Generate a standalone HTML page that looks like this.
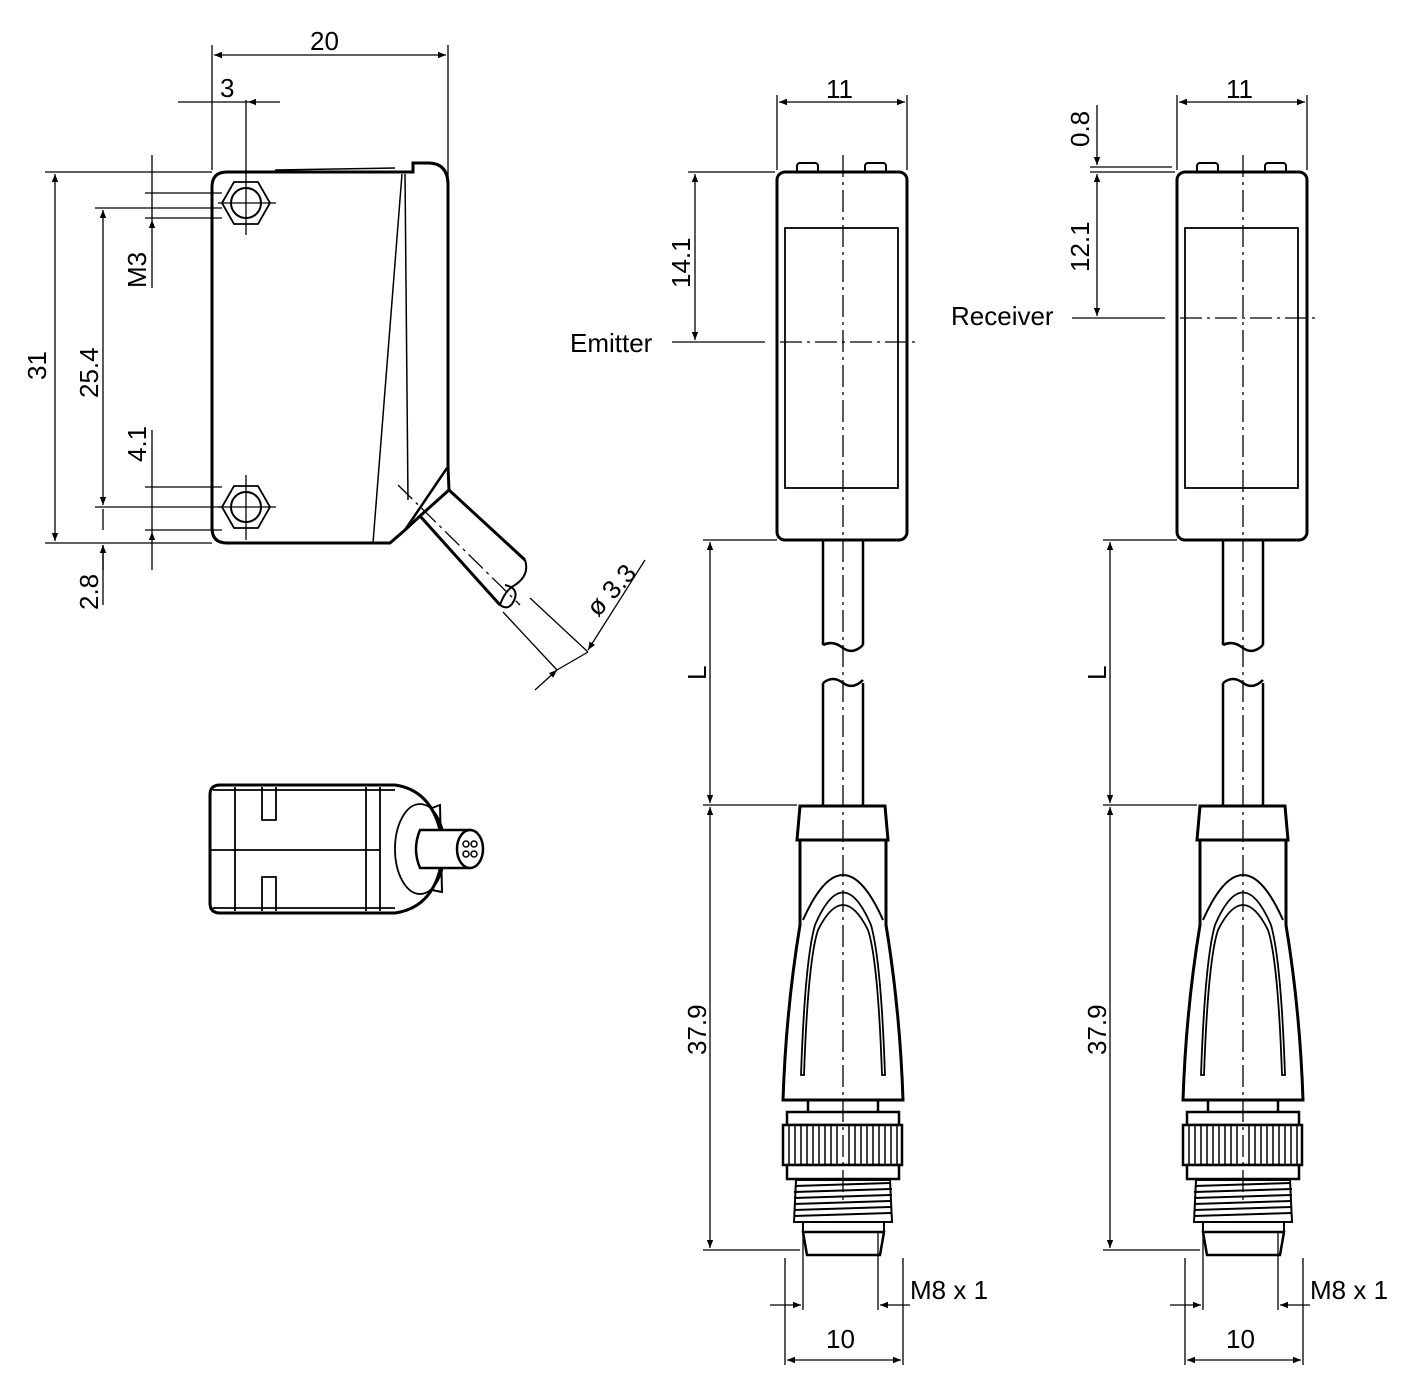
<!DOCTYPE html>
<html><head><meta charset="utf-8"><style>
html,body{margin:0;padding:0;background:#fff}
svg{display:block}
text{font-family:"Liberation Sans",sans-serif;font-size:26px;fill:#000}
</style></head><body>
<svg width="1417" height="1394" viewBox="0 0 1417 1394" xmlns="http://www.w3.org/2000/svg">
<defs>
<marker id="a" viewBox="0 0 10 10" refX="10" refY="5" markerWidth="12" markerHeight="8" orient="auto-start-reverse" markerUnits="userSpaceOnUse"><path d="M0,1 L10,5 L0,9z" fill="#000"/></marker>
<g id="front">
  <rect x="797" y="163" width="21" height="12" rx="3" fill="#fff" stroke="#000" stroke-width="2"/>
  <rect x="865" y="163" width="21" height="12" rx="3" fill="#fff" stroke="#000" stroke-width="2"/>
  <rect x="777" y="172" width="130" height="368" rx="8" fill="#fff" stroke="#000" stroke-width="3"/>
  <rect x="785" y="228" width="113" height="260" fill="none" stroke="#000" stroke-width="1.8"/>
  <path d="M823,540 L823,645 M863,540 L863,645 M823,645 Q833,640 843,648 Q853,655 863,645" fill="none" stroke="#000" stroke-width="2.5"/>
  <path d="M823,805 L823,683 M863,805 L863,683 M823,683 Q833,675 843,683 Q853,690 863,680" fill="none" stroke="#000" stroke-width="2.5"/>
  <path d="M800,806 L885,806 L888,840 L797,840 Z" fill="#fff" stroke="#000" stroke-width="3"/>
  <path d="M800,840 L800,925 Q786,1010 783,1100 L903,1100 Q900,1010 886,925 L886,840" fill="none" stroke="#000" stroke-width="3"/>
  <path d="M803,920 Q843,830 883,920" fill="none" stroke="#000" stroke-width="2"/>
  <path d="M801,1075 Q805,960 815,925 Q843,860 871,925 Q881,960 885,1075 L882,1075 Q878,960 868,930 Q843,880 818,930 Q808,960 804,1075 Z" fill="none" stroke="#000" stroke-width="1.8"/>
  <path d="M808,1100 L808,1112 M878,1100 L878,1112" stroke="#000" stroke-width="2.5"/>
  <rect x="787" y="1112" width="112" height="13" fill="#fff" stroke="#000" stroke-width="2.5"/>
  <rect x="783" y="1125" width="119" height="40" fill="#fff" stroke="#000" stroke-width="2.5"/>
  <path d="M789,1125v40M795,1125v40M801,1125v40M807,1125v40M813,1125v40M819,1125v40M825,1125v40M831,1125v40M837,1125v40M849,1125v40M855,1125v40M861,1125v40M867,1125v40M873,1125v40M879,1125v40M885,1125v40M891,1125v40M897,1125v40" stroke="#000" stroke-width="1.5"/>
  <rect x="787" y="1165" width="112" height="14" fill="#fff" stroke="#000" stroke-width="2.5"/>
  <path d="M796,1180 L890,1180 L892,1222 L794,1222 Z" fill="#fff" stroke="#000" stroke-width="2"/>
  <path d="M795,1186 L891,1183 M794,1192 L892,1189 M794,1198 L892,1195 M794,1204 L892,1201 M794,1210 L892,1207 M794,1216 L892,1213" stroke="#000" stroke-width="2"/>
  <path d="M803,1222 L884,1222 L884,1232 L803,1232 Z" fill="none" stroke="#000" stroke-width="2"/>
  <path d="M803,1232 L884,1232 L880,1255 L807,1255 Z" fill="#fff" stroke="#000" stroke-width="2.5"/>
  <path d="M843,155 L843,1200" stroke="#000" stroke-width="1.3" stroke-dasharray="22,5,3,5"/>
  <path d="M777,95 V170 M907,95 V170" stroke="#000" stroke-width="1.3"/>
  <path d="M779,102 H905" stroke="#000" stroke-width="1.3" marker-start="url(#a)" marker-end="url(#a)"/>
  <text x="826" y="98">11</text>
  <path d="M703,540 H777 M703,805 H797 M703,1250 H800" stroke="#000" stroke-width="1.3"/>
  <path d="M710,542 V803" stroke="#000" stroke-width="1.3" marker-start="url(#a)" marker-end="url(#a)"/>
  <path d="M710,807 V1248" stroke="#000" stroke-width="1.3" marker-start="url(#a)" marker-end="url(#a)"/>
  <text transform="translate(706,680) rotate(-90)">L</text>
  <text transform="translate(706,1055) rotate(-90)">37.9</text>
  <path d="M803,1232 V1310 M878,1232 V1310 M785,1258 V1365 M903,1258 V1365" stroke="#000" stroke-width="1.3"/>
  <path d="M770,1305 H801" stroke="#000" stroke-width="1.3" marker-end="url(#a)"/>
  <path d="M910,1305 H880" stroke="#000" stroke-width="1.3" marker-end="url(#a)"/>
  <path d="M787,1360 H901" stroke="#000" stroke-width="1.3" marker-start="url(#a)" marker-end="url(#a)"/>
  <text x="826" y="1348">10</text>
  <text x="910" y="1299">M8 x 1</text>
</g>
</defs>

<use href="#front"/>
<use href="#front" transform="translate(400,0)"/>

<path d="M688,172 H775" stroke="#000" stroke-width="1.3"/>
<path d="M695,174 V340" stroke="#000" stroke-width="1.3" marker-start="url(#a)" marker-end="url(#a)"/>
<text transform="translate(690,288) rotate(-90)">14.1</text>
<path d="M672,342 H765" stroke="#000" stroke-width="1.3"/>
<path d="M780,342 H915" stroke="#000" stroke-width="1.3" stroke-dasharray="22,5,3,5"/>
<text x="570" y="352">Emitter</text>

<path d="M1090,167 H1172 M1090,172 H1175" stroke="#000" stroke-width="1.3"/>
<path d="M1097,105 V165" stroke="#000" stroke-width="1.3" marker-end="url(#a)"/>
<path d="M1097,174 V316" stroke="#000" stroke-width="1.3" marker-start="url(#a)" marker-end="url(#a)"/>
<text transform="translate(1089,147) rotate(-90)">0.8</text>
<text transform="translate(1089,272) rotate(-90)">12.1</text>
<path d="M1072,318 H1165" stroke="#000" stroke-width="1.3"/>
<path d="M1180,318 H1315" stroke="#000" stroke-width="1.3" stroke-dasharray="22,5,3,5"/>
<text x="951" y="325">Receiver</text>

<g fill="none" stroke="#000">
<path d="M227,172 L413,172 L413,163 L428,163 Q448,163 448,185 L448,467 L449,490 L420,516 L405,530 L390,543 L227,543 Q212,543 212,528 L212,187 Q212,172 227,172 Z" stroke-width="3"/>
<path d="M449,490 L525,560 M420,516 L500,605" stroke-width="3"/>
<path d="M405,530 L447,468" stroke-width="2.5"/>
<path d="M373,543 L402,174 M405,174 L408,500" stroke-width="1.5"/>
<path d="M275,170 L395,168" stroke-width="1.5"/>
<path d="M525,560 Q530,575 515,585 Q505,590 500,605 M500,605 Q510,612 515,598 Q518,588 505,585" stroke-width="2"/>
<path d="M398,485 L520,605" stroke-width="1.3" stroke-dasharray="20,5,3,5"/>
<polygon points="222,203 234,182 258,182 270,203 258,224 234,224" stroke-width="1.8"/>
<circle cx="246" cy="203" r="15" stroke-width="2"/>
<polygon points="222,507 234,486 258,486 270,507 258,528 234,528" stroke-width="1.8"/>
<circle cx="246" cy="507" r="15" stroke-width="2"/>
<path d="M246,100 V235 M218,203 H276 M246,475 V540 M218,507 H276" stroke-width="1.3"/>
<path d="M212,45 V170 M448,45 V185" stroke-width="1.3"/>
<path d="M214,55 H446" stroke-width="1.3" marker-start="url(#a)" marker-end="url(#a)"/>
<path d="M178,102 H210 M280,102 H248" stroke-width="1.3" marker-end="url(#a)"/>
<path d="M210,102 H248" stroke-width="1.3"/>
<path d="M45,172 H212 M45,543 H212 M95,208 H222 M95,507 H222 M145,193 H222 M145,218 H222 M145,487 H222 M145,530 H222" stroke-width="1.3"/>
<path d="M55,174 V541" stroke-width="1.3" marker-start="url(#a)" marker-end="url(#a)"/>
<path d="M103,210 V505" stroke-width="1.3" marker-start="url(#a)" marker-end="url(#a)"/>
<path d="M103,509 V530 M103,545 V605" stroke-width="1.3"/>
<path d="M103,570 V545" stroke-width="1.3" marker-end="url(#a)"/>
<path d="M152,155 V191 M152,288 V220" stroke-width="1.3" marker-end="url(#a)"/>
<path d="M152,191 V220" stroke-width="1.3"/>
<path d="M152,430 V485 M152,570 V532" stroke-width="1.3" marker-end="url(#a)"/>
<path d="M152,485 V532" stroke-width="1.3"/>
<path d="M530,598 L588,652 M503,612 L557,670" stroke-width="1.3"/>
<path d="M645,560 L588,650" stroke-width="1.3" marker-end="url(#a)"/>
<path d="M588,652 L557,670" stroke-width="1.3"/>
<path d="M535,690 L557,670" stroke-width="1.3" marker-end="url(#a)"/>
</g>
<text transform="translate(46,380) rotate(-90)">31</text>
<text transform="translate(98,398) rotate(-90)">25.4</text>
<text transform="translate(146,288) rotate(-90)">M3</text>
<text transform="translate(146,462) rotate(-90)">4.1</text>
<text transform="translate(98,610) rotate(-90)">2.8</text>
<text x="310" y="50">20</text>
<text x="220" y="97">3</text>
<text transform="translate(598,618) rotate(-48)">ø 3.3</text>

<g fill="none" stroke="#000">
<path d="M220,785 L395,785 Q430,790 440,830 L440,870 Q430,908 395,913 L220,913 Q210,913 210,903 L210,795 Q210,785 220,785 Z" stroke-width="3"/>
<path d="M213,790 H395 M213,908 H395 M210,850 H380 M235,787 V911 M366,787 V911 M380,787 V911" stroke-width="1.8"/>
<path d="M262,787 V820 H276 V787 M262,911 V877 H276 V911" stroke-width="1.8"/>
<ellipse cx="420" cy="849" rx="25" ry="45" stroke-width="1.8"/>
<path d="M432,808 L440,805 L442,892 L432,890" stroke-width="2"/>
<path d="M420,830 L470,830 L470,868 L420,868 Q412,849 420,830 Z" stroke-width="2.5" fill="#fff"/>
<ellipse cx="470" cy="849" rx="13" ry="19" stroke-width="2.5" fill="#fff"/>
<circle cx="466" cy="844" r="3" stroke-width="1.5"/><circle cx="474" cy="844" r="3" stroke-width="1.5"/>
<circle cx="466" cy="854" r="3" stroke-width="1.5"/><circle cx="474" cy="854" r="3" stroke-width="1.5"/>
</g>
</svg>
</body></html>
